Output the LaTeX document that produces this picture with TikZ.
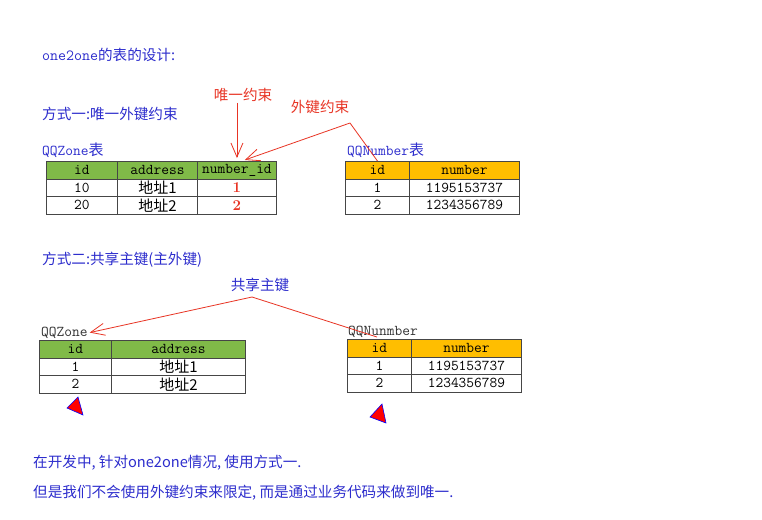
\documentclass[tikz,border=0pt]{standalone}
\usepackage{fontspec}
\newfontfamily\cjk{Noto Sans CJK SC}
\usetikzlibrary{arrows.meta, positioning, calc}
\definecolor{titleblue}{RGB}{45,45,205}
\definecolor{notered}{RGB}{232,52,36}
\definecolor{hdrgreen}{RGB}{128,186,72}
\definecolor{hdrorange}{RGB}{255,190,0}
\definecolor{gridgray}{RGB}{70,70,70}

\begin{document}
\begin{tikzpicture}[x=1pt, y=-1pt,
      title/.style={anchor=west, inner sep=0pt, text=titleblue, font=\fontsize{14.6}{16}\selectfont},
      note/.style={inner sep=1pt, text=notered, font=\cjk\fontsize{14.6}{16}\selectfont},
      tname/.style={anchor=west, inner sep=0pt, font=\ttfamily\fontsize{15}{16}\selectfont},
      cell/.style={draw=gridgray, line width=0.9pt, anchor=north west, inner sep=0pt,
                   minimum height=17.5pt, font=\ttfamily\fontsize{15}{16}\selectfont},
      zonehdr/.style={cell, fill=hdrgreen},
      numhdr/.style={cell, fill=hdrorange},
      link/.style={draw=notered, line width=0.8pt},
      barbed/.style={-{Straight Barb[length=14pt, width=12pt, line width=0.8pt]}},
      cursor/.style={fill=red, draw=blue, line width=0.6pt}
    ]
    \fill[white] (0,0) rectangle (762,519);
    \useasboundingbox (0,0) rectangle (762,519);

    % Überschriften
    \node[title] (intro) at (42,55)  {{\ttfamily\fontsize{15.5}{16}\selectfont one2one}{\cjk 的表的设计:}};
    \node[title] (way1)  at (42,114) {\cjk 方式一:唯一外键约束};
    \node[title] (way2)  at (42,260) {\cjk 方式二:共享主键(主外键)};

    % Tabelle QQZone (Weg 1)
    \node[tname, text=titleblue] (zone1lbl) at (42,150) {QQZone{\cjk 表}};
    \node[zonehdr, minimum width=71pt] (z1-id)    at (46,161)    {id};
    \node[zonehdr, minimum width=80pt] (z1-addr)  at (117,161)   {address};
    \node[zonehdr, minimum width=79pt] (z1-numid) at (197,161)   {number\_id};
    \node[cell, minimum width=71pt]    (z1-a1)    at (46,178.5)  {10};
    \node[cell, minimum width=80pt]    (z1-a2)    at (117,178.5) {\cjk 地址1};
    \node[cell, minimum width=79pt]    (z1-a3)    at (197,178.5) {\color{notered}\rmfamily\bfseries 1};
    \node[cell, minimum width=71pt]    (z1-b1)    at (46,196)    {20};
    \node[cell, minimum width=80pt]    (z1-b2)    at (117,196)   {\cjk 地址2};
    \node[cell, minimum width=79pt]    (z1-b3)    at (197,196)   {\color{notered}\rmfamily\bfseries 2};

    % Tabelle QQNumber (Weg 1)
    \node[tname, text=titleblue] (num1lbl) at (347,150) {QQNumber{\cjk 表}};
    \node[numhdr, minimum width=64pt]  (n1-id)  at (345,161)   {id};
    \node[numhdr, minimum width=110pt] (n1-num) at (409,161)   {number};
    \node[cell, minimum width=64pt]    (n1-a1)  at (345,178.5) {1};
    \node[cell, minimum width=110pt]   (n1-a2)  at (409,178.5) {1195153737};
    \node[cell, minimum width=64pt]    (n1-b1)  at (345,196)   {2};
    \node[cell, minimum width=110pt]   (n1-b2)  at (409,196)   {1234356789};

    % Constraints
    \node[note] (uniq) at (243,95)  {唯一约束};
    \node[note] (fk)   at (320,107) {外键约束};
    \coordinate (fkbend) at (350,123);
    \draw[link, barbed, shorten >=3pt] (uniq.south -| z1-numid.north) -- (z1-numid.north);
    \draw[link, barbed, shorten >=3pt] (n1-id.north) -- (fkbend) -- ([xshift=5pt]z1-numid.north);

    % Tabelle QQZone (Weg 2)
    \node[tname, text=black!80] (zone2lbl) at (41,333) {QQZone};
    \node[zonehdr, minimum width=72pt]  (z2-id)   at (39,340)    {id};
    \node[zonehdr, minimum width=134pt] (z2-addr) at (111,340)   {address};
    \node[cell, minimum width=72pt]     (z2-a1)   at (39,357.5)  {1};
    \node[cell, minimum width=134pt]    (z2-a2)   at (111,357.5) {\cjk 地址1};
    \node[cell, minimum width=72pt]     (z2-b1)   at (39,375)    {2};
    \node[cell, minimum width=134pt]    (z2-b2)   at (111,375)   {\cjk 地址2};

    % Tabelle QQNunmber (Weg 2)
    \node[tname, text=black!80] (num2lbl) at (348,332) {QQNunmber};
    \node[numhdr, minimum width=64pt]  (n2-id)  at (347,339)   {id};
    \node[numhdr, minimum width=110pt] (n2-num) at (411,339)   {number};
    \node[cell, minimum width=64pt]    (n2-a1)  at (347,356.5) {1};
    \node[cell, minimum width=110pt]   (n2-a2)  at (411,356.5) {1195153737};
    \node[cell, minimum width=64pt]    (n2-b1)  at (347,374)   {2};
    \node[cell, minimum width=110pt]   (n2-b2)  at (411,374)   {1234356789};

    % gemeinsamer Primärschlüssel
    \node[note, text=titleblue] (shared) at (260,285) {共享主键};
    \coordinate (sharedpt) at (252,297);
    \draw[link, barbed, shorten >=2pt] (sharedpt) -- (zone2lbl.east);
    \draw[link] (sharedpt) -- ($(num2lbl.center)+(-6,5)$);

    % Mauszeiger
    \filldraw[cursor] (78,397) -- (67,408) -- (83,415) -- cycle;
    \filldraw[cursor] (382,404) -- (370,417) -- (386,423) -- cycle;

    % Fazit
    \node[title] (devnote) at (33,463) {\cjk 在开发中, 针对one2one情况, 使用方式一.};
    \node[title] (biznote) at (33,493) {\cjk 但是我们不会使用外键约束来限定, 而是通过业务代码来做到唯一.};
  \end{tikzpicture}
\end{document}
